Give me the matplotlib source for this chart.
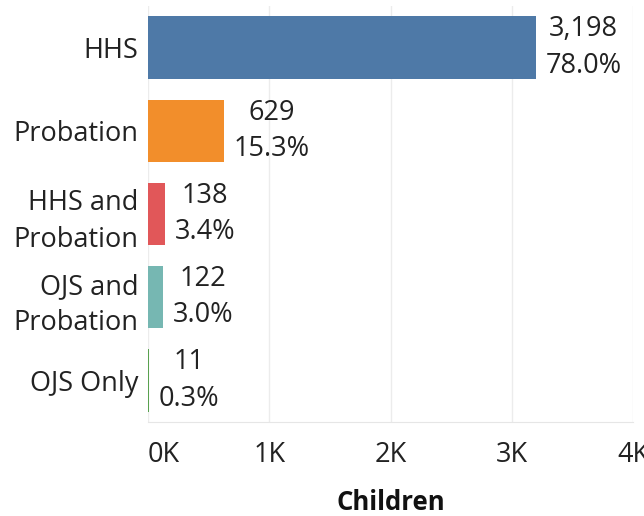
import matplotlib
matplotlib.use("Agg")
import matplotlib.pyplot as plt
from matplotlib.ticker import FuncFormatter

categories = ["HHS", "Probation", "HHS and\nProbation", "OJS and\nProbation", "OJS Only"]
values = [3198, 629, 138, 122, 11]
percents = ["78.0%", "15.3%", "3.4%", "3.0%", "0.3%"]
colors = ["#4e79a7", "#f28e2b", "#e15759", "#76b7b2", "#59a14f"]
xticks = [0, 1000, 2000, 3000, 4000]

plt.rcParams['font.family'] = ['Open Sans', 'DejaVu Sans']
FS = 19.5
TXT = "#222222"

fig = plt.figure(figsize=(6.44, 5.16), dpi=100)
W, H = 644, 516
ax = fig.add_axes([148 / W, 1 - 422 / H, (633 - 148) / W, (422 - 6) / H])

y = list(range(len(categories)))
ax.barh(y, values, height=0.75, color=colors, zorder=3)
ax.set_ylim(len(categories) - 0.5, -0.5)
ax.set_xlim(0, 4000)

for yi, v, p in zip(y, values, percents):
    ax.annotate(f"{v:,}\n{p}", xy=(v, yi), xytext=(7, 0), textcoords="offset points",
                ha="left", va="center", multialignment="center",
                fontsize=FS, color=TXT, linespacing=1.4)

ax.set_yticks(y)
ax.set_yticklabels(categories, fontsize=FS, color=TXT, linespacing=1.4,
                   multialignment="right")
ax.set_xticks(xticks)
ax.xaxis.set_major_formatter(FuncFormatter(lambda v, _: f"{int(v/1000)}K"))
for lab in ax.get_xticklabels():
    lab.set_fontsize(FS)
    lab.set_color(TXT)
ax.tick_params(axis="x", length=0, pad=14)
ax.tick_params(axis="y", length=0, pad=7)
ax.grid(axis="x", color="#ececec", linewidth=1, zorder=0)
for s in ["top", "right", "left"]:
    ax.spines[s].set_visible(False)
ax.spines["bottom"].set_color("#e6e6e6")
ax.set_xlabel("Children", fontsize=FS - 1, fontweight="bold", color="#111111", labelpad=14)

fig.canvas.draw()
labs = ax.get_xticklabels()
labs[0].set_horizontalalignment("left")

fig.savefig("out.png", dpi=100, facecolor="white")
